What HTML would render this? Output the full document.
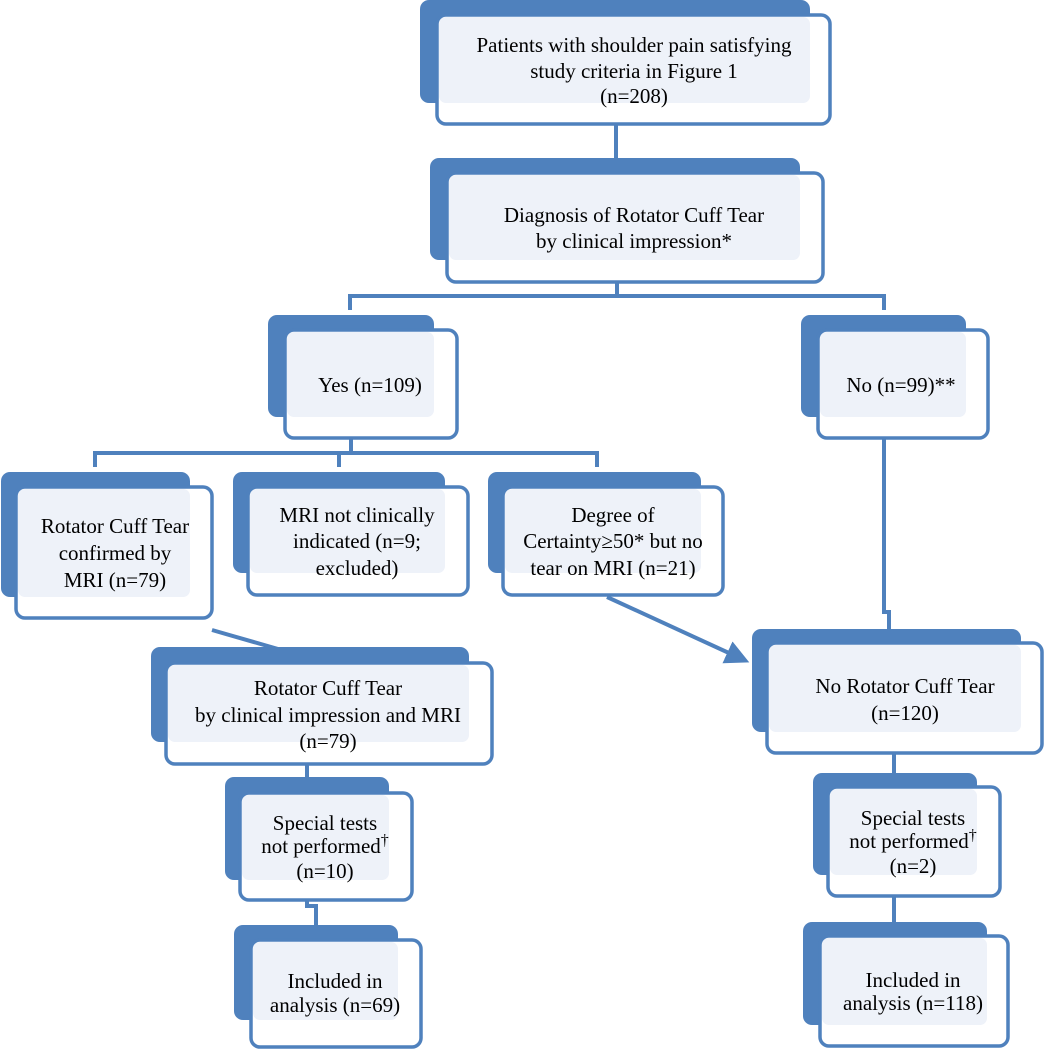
<!DOCTYPE html>
<html><head><meta charset="utf-8"><style>
html,body{margin:0;padding:0;background:#fff;}
svg{display:block;}
text{font-family:"Liberation Serif",serif;font-size:21px;fill:#000;text-anchor:middle;}
</style></head><body>
<svg width="1044" height="1050" viewBox="0 0 1044 1050" xmlns="http://www.w3.org/2000/svg">
<defs>
<marker id="ah" markerWidth="6" markerHeight="6" refX="4" refY="3" orient="auto" markerUnits="strokeWidth">
<path d="M0,0 L6,3 L0,6 z" fill="#4f81bd"/>
</marker>
</defs>
<g stroke="#4f81bd" stroke-width="4" fill="none">
<!-- connectors -->
<line x1="616" y1="124" x2="616" y2="173"/>
<line x1="617" y1="282" x2="617" y2="296"/>
<polyline points="350,310 350,296 884,296 884,310"/>
<line x1="351" y1="438" x2="351" y2="453"/>
<polyline points="95,467 95,453 597,453 597,467"/>
<line x1="339" y1="453" x2="339" y2="467"/>
<polyline points="884,438 884,612 889,612 889,643"/>
<line x1="894" y1="753" x2="894" y2="787"/>
<line x1="894" y1="896" x2="894" y2="936"/>
<line x1="307" y1="764" x2="307" y2="793"/>
<polyline points="307,900 307,906 316,906 316,940"/>
<line x1="212" y1="630" x2="330" y2="664" marker-end="url(#ah)"/>
<line x1="607" y1="597" x2="742" y2="659" marker-end="url(#ah)"/>
</g>
<g id="boxes">
<!-- box template: back, white front, light intersection, stroke -->
<!-- B1 -->
<rect x="420" y="0" width="390" height="103" rx="9" fill="#4f81bd"/>
<rect x="437" y="15" width="393" height="109" rx="9" fill="#fff"/>
<rect x="439" y="17" width="371" height="86" rx="7" fill="#eef2f9"/>
<rect x="437" y="15" width="393" height="109" rx="9" fill="none" stroke="#4f81bd" stroke-width="3.5"/>
<!-- B2 -->
<rect x="430" y="158" width="370" height="102" rx="9" fill="#4f81bd"/>
<rect x="447" y="173" width="376" height="109" rx="9" fill="#fff"/>
<rect x="449" y="175" width="351" height="85" rx="7" fill="#eef2f9"/>
<rect x="447" y="173" width="376" height="109" rx="9" fill="none" stroke="#4f81bd" stroke-width="3.5"/>
<!-- Yes -->
<rect x="268" y="315" width="166" height="102" rx="9" fill="#4f81bd"/>
<rect x="285" y="330" width="172" height="108" rx="9" fill="#fff"/>
<rect x="287" y="332" width="147" height="85" rx="7" fill="#eef2f9"/>
<rect x="285" y="330" width="172" height="108" rx="9" fill="none" stroke="#4f81bd" stroke-width="3.5"/>
<!-- No -->
<rect x="801" y="315" width="165" height="102" rx="9" fill="#4f81bd"/>
<rect x="818" y="330" width="170" height="108" rx="9" fill="#fff"/>
<rect x="820" y="332" width="146" height="85" rx="7" fill="#eef2f9"/>
<rect x="818" y="330" width="170" height="108" rx="9" fill="none" stroke="#4f81bd" stroke-width="3.5"/>
<!-- RCT confirmed -->
<rect x="1" y="472" width="189" height="125" rx="9" fill="#4f81bd"/>
<rect x="16" y="487" width="196" height="131" rx="9" fill="#fff"/>
<rect x="18" y="489" width="172" height="108" rx="7" fill="#eef2f9"/>
<rect x="16" y="487" width="196" height="131" rx="9" fill="none" stroke="#4f81bd" stroke-width="3.5"/>
<!-- MRI not -->
<rect x="233" y="472" width="212" height="101" rx="9" fill="#4f81bd"/>
<rect x="248" y="487" width="220" height="108" rx="9" fill="#fff"/>
<rect x="250" y="489" width="195" height="84" rx="7" fill="#eef2f9"/>
<rect x="248" y="487" width="220" height="108" rx="9" fill="none" stroke="#4f81bd" stroke-width="3.5"/>
<!-- Degree -->
<rect x="488" y="472" width="213" height="101" rx="9" fill="#4f81bd"/>
<rect x="503" y="487" width="220" height="108" rx="9" fill="#fff"/>
<rect x="505" y="489" width="196" height="84" rx="7" fill="#eef2f9"/>
<rect x="503" y="487" width="220" height="108" rx="9" fill="none" stroke="#4f81bd" stroke-width="3.5"/>
<!-- RCT clinical+MRI -->
<rect x="151" y="647" width="318" height="95" rx="9" fill="#4f81bd"/>
<rect x="166" y="663" width="326" height="101" rx="9" fill="#fff"/>
<rect x="168" y="665" width="301" height="77" rx="7" fill="#eef2f9"/>
<rect x="166" y="663" width="326" height="101" rx="9" fill="none" stroke="#4f81bd" stroke-width="3.5"/>
<!-- No RCT -->
<rect x="752" y="629" width="269" height="103" rx="9" fill="#4f81bd"/>
<rect x="767" y="643" width="275" height="110" rx="9" fill="#fff"/>
<rect x="769" y="645" width="252" height="87" rx="7" fill="#eef2f9"/>
<rect x="767" y="643" width="275" height="110" rx="9" fill="none" stroke="#4f81bd" stroke-width="3.5"/>
<!-- Special left -->
<rect x="225" y="777" width="164" height="103" rx="9" fill="#4f81bd"/>
<rect x="240" y="793" width="172" height="107" rx="9" fill="#fff"/>
<rect x="242" y="795" width="147" height="85" rx="7" fill="#eef2f9"/>
<rect x="240" y="793" width="172" height="107" rx="9" fill="none" stroke="#4f81bd" stroke-width="3.5"/>
<!-- Special right -->
<rect x="813" y="773" width="164" height="102" rx="9" fill="#4f81bd"/>
<rect x="828" y="787" width="172" height="109" rx="9" fill="#fff"/>
<rect x="830" y="789" width="147" height="86" rx="7" fill="#eef2f9"/>
<rect x="828" y="787" width="172" height="109" rx="9" fill="none" stroke="#4f81bd" stroke-width="3.5"/>
<!-- Included left -->
<rect x="234" y="925" width="164" height="95" rx="9" fill="#4f81bd"/>
<rect x="251" y="940" width="170" height="107" rx="9" fill="#fff"/>
<rect x="253" y="942" width="145" height="78" rx="7" fill="#eef2f9"/>
<rect x="251" y="940" width="170" height="107" rx="9" fill="none" stroke="#4f81bd" stroke-width="3.5"/>
<!-- Included right -->
<rect x="803" y="922" width="184" height="103" rx="9" fill="#4f81bd"/>
<rect x="820" y="936" width="188" height="110" rx="9" fill="#fff"/>
<rect x="822" y="938" width="165" height="87" rx="7" fill="#eef2f9"/>
<rect x="820" y="936" width="188" height="110" rx="9" fill="none" stroke="#4f81bd" stroke-width="3.5"/>
</g>
<g>
<text x="634" y="52">Patients with shoulder pain satisfying</text>
<text x="634" y="78">study criteria in Figure 1</text>
<text x="634" y="103">(n=208)</text>
<text x="634" y="222">Diagnosis of Rotator Cuff Tear</text>
<text x="634" y="248">by clinical impression*</text>
<text x="370" y="392">Yes (n=109)</text>
<text x="901" y="392">No (n=99)**</text>
<text x="115" y="533">Rotator Cuff Tear</text>
<text x="115" y="560">confirmed by</text>
<text x="115" y="587">MRI (n=79)</text>
<text x="357" y="522">MRI not clinically</text>
<text x="357" y="548">indicated (n=9;</text>
<text x="357" y="575">excluded)</text>
<text x="613" y="522">Degree of</text>
<text x="613" y="548">Certainty≥50* but no</text>
<text x="613" y="575">tear on MRI (n=21)</text>
<text x="328" y="695">Rotator Cuff Tear</text>
<text x="328" y="722">by clinical impression and MRI</text>
<text x="328" y="748">(n=79)</text>
<text x="905" y="693">No Rotator Cuff Tear</text>
<text x="905" y="720">(n=120)</text>
<text x="325" y="830">Special tests</text>
<text x="325" y="853">not performed<tspan dy="-8" font-size="16">†</tspan></text>
<text x="325" y="878">(n=10)</text>
<text x="913" y="825">Special tests</text>
<text x="913" y="848">not performed<tspan dy="-8" font-size="16">†</tspan></text>
<text x="913" y="873">(n=2)</text>
<text x="335" y="988">Included in</text>
<text x="335" y="1012">analysis (n=69)</text>
<text x="913" y="987">Included in</text>
<text x="913" y="1010">analysis (n=118)</text>
</g>
</svg>
</body></html>
